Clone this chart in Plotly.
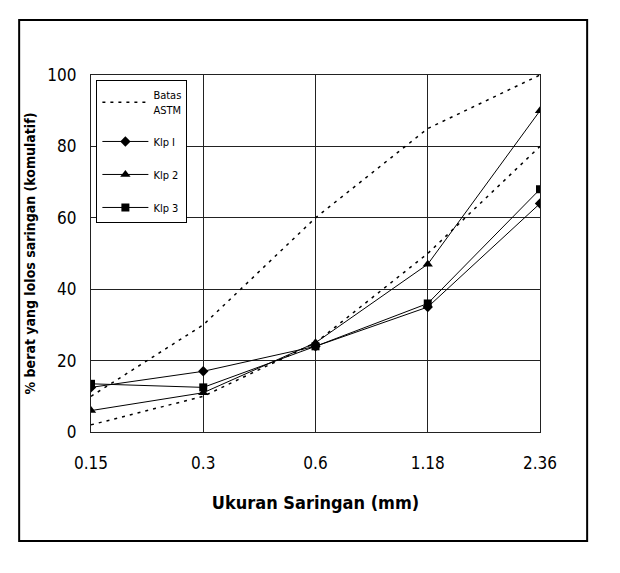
import plotly.graph_objects as go

sizes = ["0.15", "0.3", "0.6", "1.18", "2.36"]
astm_upper = [10, 30, 60, 85, 100]
astm_lower = [2, 10, 25, 50, 80]
klp1 = [12.5, 17, 24, 35, 64]
klp2 = [6, 11, 25, 47, 90]
klp3 = [13.5, 12.5, 24, 36, 68]

FONT = "DejaVu Sans Condensed, Liberation Sans Narrow, Liberation Sans, Arial, sans-serif"

fig = go.Figure()
dotted = dict(color="black", width=1.5, dash="3px,5px")
fig.add_trace(go.Scatter(x=sizes, y=astm_upper, mode="lines", line=dotted,
                         name="Batas<br>ASTM", legendgroup="a", showlegend=True))
fig.add_trace(go.Scatter(x=sizes, y=astm_lower, mode="lines", line=dotted,
                         name="Batas ASTM", legendgroup="a", showlegend=False))
fig.add_trace(go.Scatter(x=sizes, y=klp1, mode="lines+markers", name="Klp I",
                         legendgroup="b",
                         line=dict(color="black", width=1),
                         marker=dict(symbol="diamond", size=8, color="black")))
fig.add_trace(go.Scatter(x=sizes, y=klp2, mode="lines+markers", name="Klp 2",
                         legendgroup="c",
                         line=dict(color="black", width=1),
                         marker=dict(symbol="triangle-up", size=9, color="black")))
fig.add_trace(go.Scatter(x=sizes, y=klp3, mode="lines+markers", name="Klp 3",
                         legendgroup="d",
                         line=dict(color="black", width=1),
                         marker=dict(symbol="square", size=8, color="black")))

# outer frame
fig.add_shape(type="rect", xref="paper", yref="paper",
              x0=-0.160, x1=1.105, y0=-0.305, y1=1.154,
              line=dict(color="black", width=2), layer="below")

fig.update_layout(
    width=620, height=573,
    margin=dict(l=91, r=80, t=75, b=141),
    paper_bgcolor="white", plot_bgcolor="white",
    font=dict(family=FONT, color="black", size=16),
    legend=dict(x=0.012, y=0.985, xanchor="left", yanchor="top",
                bgcolor="white", bordercolor="black", borderwidth=1,
                font=dict(family=FONT, size=11, color="black"),
                tracegroupgap=14, itemwidth=46),
    showlegend=True,
)
fig.update_xaxes(type="category", range=[0, 4],
                 showgrid=True, gridcolor="#222", gridwidth=1.3,
                 showline=True, linecolor="#222", linewidth=1.3, mirror=True,
                 ticks="", ticklabelstandoff=15, zeroline=False,
                 tickfont=dict(size=17, family=FONT),
                 title=dict(text="<b>Ukuran Saringan (mm)</b>", standoff=24,
                            font=dict(size=18, family=FONT)))
fig.update_yaxes(range=[0, 100], tickvals=[0, 20, 40, 60, 80, 100],
                 showgrid=True, gridcolor="#222", gridwidth=1.3,
                 showline=True, linecolor="#222", linewidth=1.3, mirror=True,
                 ticks="", ticklabelstandoff=10, zeroline=False,
                 tickfont=dict(size=17, family=FONT),
                 title=dict(text="<b>% berat yang lolos saringan (komulatif)</b>",
                            standoff=8,
                            font=dict(size=14, family=FONT)))

fig.write_html("out.html")
